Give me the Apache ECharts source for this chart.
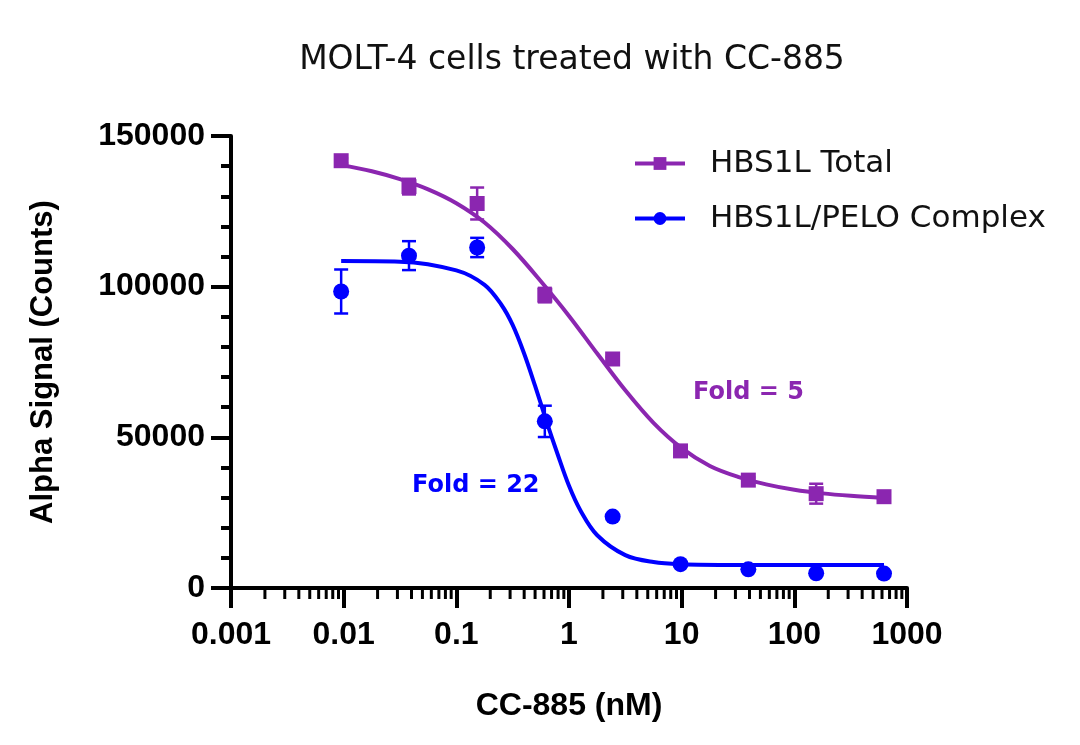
<!DOCTYPE html>
<html>
<head>
<meta charset="utf-8">
<title>MOLT-4 cells treated with CC-885</title>
<script src="https://cdn.jsdelivr.net/npm/echarts@6/dist/echarts.min.js"></script>
<style>
  html, body { margin: 0; padding: 0; background: #fff; }
  #main { width: 1080px; height: 745px; }
</style>
</head>
<body>
<div id="main"></div>
<script>
// doses (nM), 4-fold dilution series
var doses = [0.0095, 0.038, 0.153, 0.61, 2.44, 9.77, 39.06, 156.25, 625];

// HBS1L Total: mean and SD
var totalMean = [141800, 133200, 127600, 97200, 76000, 45500, 35800, 31300, 30300];
var totalErr  = [800, 2600, 5300, 2400, 700, 900, 900, 3300, 900];

// HBS1L/PELO Complex: mean and SD
var complexMean = [98400, 110300, 113000, 55300, 23700, 7900, 6200, 4900, 4800];
var complexErr  = [7300, 4800, 3200, 5200, 0, 0, 0, 0, 0];

// fitted curves: [dose, signal]
var totalFit = [
  [0.0093, 140500], [0.0178, 138300], [0.0316, 135700], [0.0562, 132300],
  [0.1, 127700], [0.178, 121300], [0.316, 112500], [0.562, 101800],
  [1, 90300], [1.78, 77800], [3.16, 65600], [5.62, 54800], [10, 46400],
  [17.8, 40500], [31.6, 36900], [56.2, 34400], [100, 32600], [178, 31400],
  [316, 30600], [625, 29900]
];
var complexFit = [
  [0.0095, 108500], [0.0316, 108300], [0.1, 105400], [0.178, 100600],
  [0.251, 94000], [0.316, 87300], [0.398, 78000], [0.501, 67000],
  [0.631, 55300], [0.794, 44300], [1, 33900], [1.26, 25800], [1.78, 17500],
  [3.16, 10900], [5.62, 8600], [10, 7900], [31.6, 7650], [625, 7600]
];

// y-axis tick labels, x-axis minor tick positions (2..9 in each decade)
var yLabels = ['0', '50000', '100000', '150000'];
var xMinorTicks = [];
[0.001, 0.01, 0.1, 1, 10, 100].forEach(function (d) {
  [2, 3, 4, 5, 6, 7, 8, 9].forEach(function (k) {
    xMinorTicks.push([+(d * k).toPrecision(3)]);
  });
});

var purple = '#8B26B0';
var blue = '#0000FF';
var axisFont = 'Liberation Sans';
var textFont = 'DejaVu Sans';

function zip(xs, ys, es) {
  return xs.map(function (x, i) { return es ? [x, ys[i], es[i]] : [x, ys[i]]; });
}

function errorBar(color) {
  return function (params, api) {
    var x = api.value(0), y = api.value(1), e = api.value(2);
    if (!e) return null;
    var top = api.coord([x, y + e]);
    var bot = api.coord([x, y - e]);
    var w = 7;
    var style = { stroke: color, lineWidth: 2.5 };
    return {
      type: 'group',
      children: [
        { type: 'line', shape: { x1: top[0], y1: top[1], x2: bot[0], y2: bot[1] }, style: style },
        { type: 'line', shape: { x1: top[0] - w, y1: top[1], x2: top[0] + w, y2: top[1] }, style: style },
        { type: 'line', shape: { x1: bot[0] - w, y1: bot[1], x2: bot[0] + w, y2: bot[1] }, style: style }
      ]
    };
  };
}

var chart = echarts.init(document.getElementById('main'));

var option = {
  animation: false,
  backgroundColor: '#fff',
  title: {
    text: 'MOLT-4 cells treated with CC-885',
    left: 567,
    top: 39,
    textAlign: 'center',
    textStyle: { fontFamily: textFont, fontWeight: 'normal', fontSize: 33, color: '#111' }
  },
  legend: {
    data: ['HBS1L Total', 'HBS1L/PELO Complex'],
    orient: 'vertical',
    left: 628,
    top: 143,
    itemWidth: 50,
    itemHeight: 16,
    itemGap: 24,
    lineStyle: { width: 4 },
    textStyle: { fontFamily: textFont, fontSize: 31, color: '#111', padding: [0, 0, 0, 20] }
  },
  grid: { left: 231, right: 173, top: 136, bottom: 157 },
  xAxis: {
    type: 'log',
    logBase: 10,
    min: 0.001,
    max: 1000,
    name: 'CC-885 (nM)',
    nameLocation: 'middle',
    nameGap: 102,
    nameTextStyle: { fontFamily: axisFont, fontWeight: 'bold', fontSize: 32, color: '#000' },
    axisLine: { onZero: false, lineStyle: { color: '#000', width: 4 } },
    axisTick: { length: 20, lineStyle: { color: '#000', width: 4 } },
    minorTick: { show: false },
    splitLine: { show: false },
    axisLabel: {
      margin: 31,
      fontFamily: axisFont,
      fontWeight: 'bold',
      fontSize: 32,
      color: '#000',
      formatter: function (v) { return String(+(+v).toPrecision(3)); }
    }
  },
  yAxis: {
    type: 'value',
    min: 0,
    max: 150000,
    interval: 50000,
    name: 'Alpha Signal (Counts)',
    nameLocation: 'middle',
    nameGap: 172,
    nameTextStyle: { fontFamily: axisFont, fontWeight: 'bold', fontSize: 31, color: '#000' },
    axisLine: { show: true, lineStyle: { color: '#000', width: 4 } },
    axisTick: { show: true, length: 20, lineStyle: { color: '#000', width: 4 } },
    minorTick: { show: true, splitNumber: 5, length: 10, lineStyle: { color: '#000', width: 4 } },
    splitLine: { show: false },
    axisLabel: {
      margin: 26,
      fontFamily: axisFont,
      fontWeight: 'bold',
      fontSize: 32,
      color: '#000',
      formatter: function (v) { return yLabels[Math.round(v / 50000)]; }
    }
  },
  graphic: [
    {
      type: 'text', left: 693, top: 381,
      style: { text: 'Fold = 5', fill: purple, font: 'bold 24px ' + textFont }
    },
    {
      type: 'text', left: 412, top: 474,
      style: { text: 'Fold = 22', fill: blue, font: 'bold 24px ' + textFont }
    }
  ],
  series: [
    {
      name: 'x minor ticks',
      type: 'custom',
      clip: false,
      silent: true,
      data: xMinorTicks,
      renderItem: function (params, api) {
        var p = api.coord([api.value(0), 0]);
        return {
          type: 'line',
          shape: { x1: p[0], y1: p[1], x2: p[0], y2: p[1] + 11 },
          style: { stroke: '#000', lineWidth: 3 }
        };
      },
      encode: { x: 0 },
      z: 1
    },
    {
      name: 'HBS1L Total',
      type: 'line',
      data: totalFit,
      smooth: 0.35,
      symbol: 'rect',
      symbolSize: 14,
      showSymbol: false,
      lineStyle: { color: purple, width: 4 },
      itemStyle: { color: purple },
      z: 2
    },
    {
      name: 'HBS1L/PELO Complex',
      type: 'line',
      data: complexFit,
      smooth: 0.35,
      symbol: 'circle',
      symbolSize: 14,
      showSymbol: false,
      lineStyle: { color: blue, width: 4 },
      itemStyle: { color: blue },
      z: 2
    },
    {
      name: 'total err',
      type: 'custom',
      data: zip(doses, totalMean, totalErr),
      renderItem: errorBar(purple),
      encode: { x: 0, y: [1, 2] },
      z: 3
    },
    {
      name: 'complex err',
      type: 'custom',
      data: zip(doses, complexMean, complexErr),
      renderItem: errorBar(blue),
      encode: { x: 0, y: [1, 2] },
      z: 3
    },
    {
      name: 'total points',
      type: 'scatter',
      data: zip(doses, totalMean),
      symbol: 'rect',
      symbolSize: 15,
      itemStyle: { color: purple, opacity: 1 },
      z: 4
    },
    {
      name: 'complex points',
      type: 'scatter',
      data: zip(doses, complexMean),
      symbol: 'circle',
      symbolSize: 16,
      itemStyle: { color: blue, opacity: 1 },
      z: 4
    }
  ]
};

chart.setOption(option);
</script>
</body>
</html>
